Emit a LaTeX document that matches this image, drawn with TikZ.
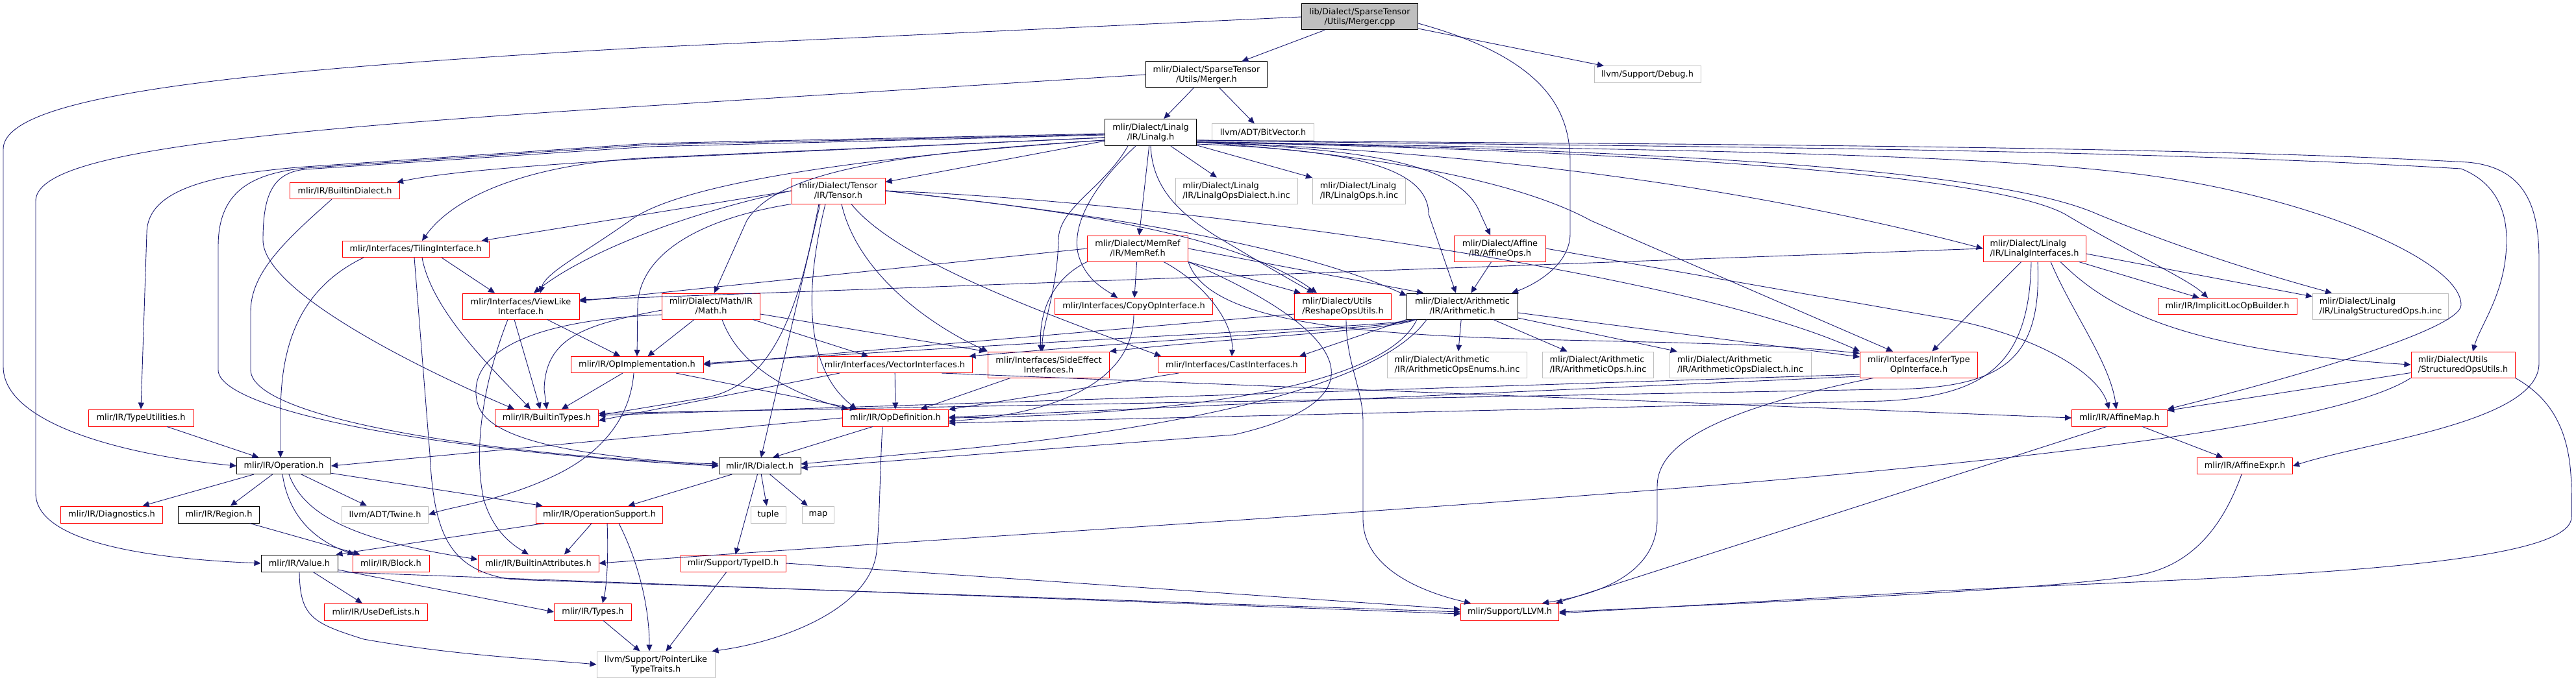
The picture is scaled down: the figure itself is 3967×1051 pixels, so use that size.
\documentclass[tikz,border=0pt]{standalone}
\usepackage{fontspec}
\setmainfont{DejaVu Sans}
\usetikzlibrary{arrows.meta}
\definecolor{edgec}{HTML}{191970}
\definecolor{nred}{HTML}{FF0000}
\definecolor{ngray}{HTML}{BFBFBF}
\newcommand\nodefontsel{\fontsize{12.9}{15}\selectfont}
\begin{document}
\begin{tikzpicture}[x=1pt,y=-1pt,
  box/.style={rectangle, draw, line width=1pt, inner sep=0pt, font=\nodefontsel, align=center, fill=white},
  rbox/.style={box, draw=nred},
  bbox/.style={box, draw=black},
  gbox/.style={box, draw=ngray},
  rootbox/.style={box, draw=black, fill=ngray},
  lal/.style={align=left},
  sz/.style 2 args={minimum width=#1pt, minimum height=#2pt},
  edg/.style={draw=edgec, line width=0.9pt, -{Triangle[length=10pt,width=9pt]}}
]
\useasboundingbox (0,0) rectangle (3967,1051);

% ---------- nodes ----------
\node[rootbox, sz={179}{40}] (cpp) at (2094,26) {lib/Dialect/SparseTensor\\/Utils/Merger.cpp};
\node[bbox, sz={187}{40}] (mergerh) at (1858,115) {mlir/Dialect/SparseTensor\\/Utils/Merger.h};
\node[gbox, sz={164}{26}] (debug) at (2537,115) {llvm/Support/Debug.h};
\node[bbox, sz={141}{41}] (linalg) at (1772,204) {mlir/Dialect/Linalg\\/IR/Linalg.h};
\node[gbox, sz={157}{26}] (bitvec) at (1945,204) {llvm/ADT/BitVector.h};
\node[rbox, sz={169}{25}] (bdialect) at (531,294) {mlir/IR/BuiltinDialect.h};
\node[rbox, sz={144}{40}] (tensor) at (1291,294) {mlir/Dialect/Tensor\\/IR/Tensor.h};
\node[gbox, lal, sz={188}{40}] (lodial) at (1904,294) {mlir/Dialect/Linalg\\/IR/LinalgOpsDialect.h.inc};
\node[gbox, lal, sz={143}{40}] (lops) at (2093,294) {mlir/Dialect/Linalg\\/IR/LinalgOps.h.inc};
\node[rbox, sz={226}{25}] (tiling) at (640,384) {mlir/Interfaces/TilingInterface.h};
\node[rbox, sz={155}{40}] (memref) at (1752,383) {mlir/Dialect/MemRef\\/IR/MemRef.h};
\node[rbox, sz={141}{40}] (affops) at (2310,383) {mlir/Dialect/Affine\\/IR/AffineOps.h};
\node[rbox, lal, sz={158}{40}] (linif) at (3133,383) {mlir/Dialect/Linalg\\/IR/LinalgInterfaces.h};
\node[rbox, sz={180}{40}] (viewlike) at (802,472) {mlir/Interfaces/ViewLike\\Interface.h};
\node[rbox, sz={151}{40}] (math) at (1095,472) {mlir/Dialect/Math/IR\\/Math.h};
\node[rbox, sz={243}{25}] (copyop) at (1746,472) {mlir/Interfaces/CopyOpInterface.h};
\node[rbox, lal, sz={149}{40}] (reshape) at (2068,472) {mlir/Dialect/Utils\\/ReshapeOpsUtils.h};
\node[bbox, sz={171}{40}] (arith) at (2252,472) {mlir/Dialect/Arithmetic\\/IR/Arithmetic.h};
\node[rbox, sz={214}{25}] (implicit) at (3430,472) {mlir/IR/ImplicitLocOpBuilder.h};
\node[gbox, lal, sz={209}{40}] (lstruct) at (3666,472) {mlir/Dialect/Linalg\\/IR/LinalgStructuredOps.h.inc};
\node[rbox, sz={204}{25}] (opimpl) at (981,562) {mlir/IR/OpImplementation.h};
\node[rbox, sz={238}{25}] (vector) at (1378,562) {mlir/Interfaces/VectorInterfaces.h};
\node[rbox, sz={187}{40}] (sideeff) at (1615,562) {mlir/Interfaces/SideEffect\\Interfaces.h};
\node[rbox, sz={227}{25}] (cast) at (1897,562) {mlir/Interfaces/CastInterfaces.h};
\node[gbox, lal, sz={215}{40}] (aenums) at (2244,562) {mlir/Dialect/Arithmetic\\/IR/ArithmeticOpsEnums.h.inc};
\node[gbox, lal, sz={171}{40}] (aops) at (2461,562) {mlir/Dialect/Arithmetic\\/IR/ArithmeticOps.h.inc};
\node[gbox, lal, sz={218}{40}] (adial) at (2680,562) {mlir/Dialect/Arithmetic\\/IR/ArithmeticOpsDialect.h.inc};
\node[rbox, sz={181}{40}] (infer) at (2955,562) {mlir/Interfaces/InferType\\OpInterface.h};
\node[rbox, lal, sz={160}{40}] (structu) at (3793,562) {mlir/Dialect/Utils\\/StructuredOpsUtils.h};
\node[rbox, sz={162}{26}] (typeutil) at (217,644) {mlir/IR/TypeUtilities.h};
\node[rbox, sz={159}{26}] (btypes) at (842,644) {mlir/IR/BuiltinTypes.h};
\node[rbox, sz={163}{26}] (opdef) at (1379,644) {mlir/IR/OpDefinition.h};
\node[rbox, sz={147}{26}] (affmap) at (3264,644) {mlir/IR/AffineMap.h};
\node[bbox, sz={145}{25}] (operation) at (437,718) {mlir/IR/Operation.h};
\node[bbox, sz={126}{25}] (dialect) at (1170,718) {mlir/IR/Dialect.h};
\node[rbox, sz={147}{25}] (affexpr) at (3457,718) {mlir/IR/AffineExpr.h};
\node[rbox, sz={157}{26}] (diag) at (172,793) {mlir/IR/Diagnostics.h};
\node[bbox, sz={125}{26}] (region) at (337,793) {mlir/IR/Region.h};
\node[gbox, sz={133}{26}] (twine) at (593,793) {llvm/ADT/Twine.h};
\node[rbox, sz={195}{26}] (opsupport) at (923,793) {mlir/IR/OperationSupport.h};
\node[gbox, sz={54}{26}] (tuple) at (1183,793) {tuple};
\node[gbox, sz={49}{26}] (map) at (1260,793) {map};
\node[bbox, sz={118}{26}] (value) at (461,868) {mlir/IR/Value.h};
\node[rbox, sz={118}{26}] (block) at (602,868) {mlir/IR/Block.h};
\node[rbox, sz={186}{26}] (battr) at (829,868) {mlir/IR/BuiltinAttributes.h};
\node[rbox, sz={162}{26}] (typeid) at (1129,868) {mlir/Support/TypeID.h};
\node[rbox, sz={159}{26}] (usedef) at (579,943) {mlir/IR/UseDefLists.h};
\node[rbox, sz={119}{26}] (types) at (913,943) {mlir/IR/Types.h};
\node[rbox, sz={151}{26}] (llvm) at (2325,943) {mlir/Support/LLVM.h};
\node[gbox, sz={182}{40}] (ptrlike) at (1010,1024) {llvm/Support/PointerLike\\TypeTraits.h};

% ---------- edges: Merger.cpp ----------
\draw[edg] (cpp) -- (mergerh);
\draw[edg] (cpp) -- (debug);
\draw[edg] ([yshift=-10pt]cpp.east) .. controls (2380,90) and (2418,170) .. (2418,250) -- (2418,360) .. controls (2418,410) and (2360,440) .. ([xshift=-10pt]arith.north east);
\draw[edg] (cpp.west) -- (1000,73) .. controls (330,110) and (5,150) .. (5,230) -- (5,565) .. controls (5,650) and (180,700) .. (operation.west);

% ---------- Merger.h ----------
\draw[edg] (mergerh) -- (linalg);
\draw[edg] (mergerh) -- (bitvec);
\draw[edg] (mergerh.west) -- (1000,163) .. controls (330,205) and (55,240) .. (55,310) -- (55,760) .. controls (55,840) and (250,862) .. (value.west);

% ---------- Linalg.h ----------
\draw[edg] ([yshift=-2pt]linalg.west) -- (1000,221) -- (470,257) .. controls (300,270) and (226,300) .. (226,360) -- (typeutil.north);
\draw[edg] ([yshift=-3pt]linalg.west) -- (1000,223) -- (470,259) .. controls (380,268) and (336,300) .. (336,380) -- (336,570) .. controls (336,630) and (650,695) .. (dialect.west);
\draw[edg] ([yshift=-4pt]linalg.west) -- (1000,226) -- (470,261) .. controls (420,266) and (405,300) .. (405,370) .. controls (405,450) and (650,570) .. ([xshift=-50pt]btypes.north);
\draw[edg] ([yshift=-8pt]linalg.west) -- (1000,243) .. controls (820,252) and (700,300) .. ([xshift=10pt]tiling.north);
\draw[edg] ([yshift=-8pt]linalg.west) -- (1000,244) .. controls (800,256) and (680,266) .. ([xshift=-5pt]bdialect.north east);
\draw[edg] ([yshift=-12pt]linalg.west) .. controls (1400,235) and (1200,260) .. (1150,340) -- ([xshift=5pt]math.north);
\draw[edg] ([yshift=-12pt]linalg.west) .. controls (1350,240) and (1050,280) .. (970,340) .. controls (900,390) and (840,420) .. ([xshift=30pt]viewlike.north);
\draw[edg] (linalg) -- (tensor);
\draw[edg] (linalg) -- (lodial);
\draw[edg] (linalg) -- (lops);
\draw[edg] (linalg) -- (memref);
\draw[edg] ([xshift=-23pt]linalg.south) .. controls (1690,280) and (1650,340) .. (1660,390) .. controls (1670,430) and (1700,445) .. ([xshift=-25pt]copyop.north);
\draw[edg] ([xshift=-35pt]linalg.south) .. controls (1700,290) and (1630,320) .. (1630,370) .. controls (1628,450) and (1605,500) .. ([xshift=-10pt]sideeff.north);
\draw[edg] (linalg.south) .. controls (1775,300) and (1830,340) .. (1900,380) .. controls (1950,410) and (1985,430) .. ([xshift=-45pt]reshape.north);
\draw[edg] ([yshift=-18pt]linalg.east) .. controls (2050,230) and (2200,250) .. (2200,330) -- ([xshift=-10pt]arith.north);
\draw[edg] ([yshift=-15pt]linalg.east) .. controls (2100,230) and (2250,250) .. (2280,330) -- ([xshift=-15pt]affops.north);
\draw[edg] ([yshift=-15pt]linalg.east) .. controls (2150,240) and (2350,285) .. (2450,340) -- ([xshift=-40pt]infer.north);
\draw[edg] ([yshift=-15pt]linalg.east) .. controls (2300,235) and (2700,290) .. (linif.west);
\draw[edg] ([yshift=-15pt]linalg.east) .. controls (2400,230) and (3050,260) .. (3180,330) .. controls (3280,390) and (3370,430) .. ([xshift=-30pt]implicit.north);
\draw[edg] ([yshift=-15pt]linalg.east) .. controls (2400,228) and (3050,250) .. (3230,330) .. controls (3400,400) and (3550,440) .. ([xshift=-75pt]lstruct.north);
\draw[edg] ([yshift=-12pt]linalg.east) .. controls (2400,226) and (3200,225) .. (3790,260) .. controls (3840,280) and (3860,320) .. (3860,370) .. controls (3860,450) and (3820,500) .. ([xshift=15pt]structu.north);
\draw[edg] ([yshift=-12pt]linalg.east) .. controls (2400,222) and (3300,222) .. (3800,250) .. controls (3890,258) and (3910,320) .. (3910,400) -- (3910,560) .. controls (3910,650) and (3650,680) .. (affexpr.east);
\draw[edg] ([yshift=-14pt]linalg.east) .. controls (2400,230) and (3000,232) .. (3290,268) .. controls (3550,300) and (3790,400) .. (3790,470) .. controls (3790,510) and (3500,590) .. (affmap.north east);

% ---------- Tensor.h ----------
\draw[edg] (tensor.west) -- ([xshift=-12pt]tiling.north east);
\draw[edg] (tensor.west) .. controls (1050,330) and (900,390) .. ([xshift=20pt]viewlike.north);
\draw[edg] (tensor.south west) .. controls (1060,340) and (985,400) .. (982,470) -- (opimpl.north);
\draw[edg] ([xshift=-30pt]tensor.south) .. controls (1235,450) and (1200,590) .. (1090,612) -- ([yshift=4pt]btypes.east);
\draw[edg] ([xshift=-28pt]tensor.south) -- ([xshift=2pt]dialect.north);
\draw[edg] ([xshift=-20pt]tensor.south) .. controls (1245,420) and (1230,560) .. ([xshift=-60pt]opdef.north);
\draw[edg] ([xshift=5pt]tensor.south) .. controls (1320,420) and (1430,500) .. (sideeff.north west);
\draw[edg] ([xshift=20pt]tensor.south) .. controls (1380,400) and (1600,480) .. ([xshift=5pt]cast.north west);
\draw[edg] (tensor.east) .. controls (1650,325) and (1900,360) .. ([xshift=-40pt]reshape.north);
\draw[edg] (tensor.east) .. controls (1650,325) and (1980,370) .. ([yshift=-4pt]arith.north west);
\draw[edg] (tensor.east) .. controls (1800,310) and (2600,420) .. (infer.north west);

% ---------- MemRef.h ----------
\draw[edg] (memref.west) -- ([yshift=8pt]viewlike.east);
\draw[edg] (memref) -- (copyop);
\draw[edg] (memref.south west) .. controls (1620,430) and (1600,480) .. ([xshift=-12pt]sideeff.north);
\draw[edg] ([xshift=40pt]memref.south) .. controls (1860,440) and (1900,500) .. (cast.north);
\draw[edg] (memref.south east) -- ([xshift=-65pt]reshape.north);
\draw[edg] (memref.east) -- ([xshift=-60pt]arith.north);
\draw[edg] (memref.south east) .. controls (1880,560) and (2500,505) .. ([yshift=-3pt]infer.north west);
\draw[edg] (memref.south east) .. controls (2100,520) and (2120,620) .. (1900,670) -- ([yshift=-3pt]dialect.east);

% ---------- Math.h ----------
\draw[edg] (math) -- (opimpl);
\draw[edg] (math) -- (vector);
\draw[edg] ([yshift=-12pt]math.east) -- ([xshift=-3pt]sideeff.north west);
\draw[edg] ([xshift=17pt]math.south) .. controls (1140,570) and (1230,610) .. ([xshift=-73pt]opdef.north);
\draw[edg] ([yshift=-6pt]math.west) .. controls (900,500) and (840,520) .. (838,600) -- (btypes.north);
\draw[edg] ([yshift=-13pt]math.west) .. controls (780,495) and (720,560) .. (735,620) .. controls (750,690) and (950,705) .. (dialect.west);

% ---------- TilingInterface.h ----------
\draw[edg] ([xshift=40pt]tiling.south) -- ([xshift=-40pt]viewlike.north);
\draw[edg] ([xshift=10pt]tiling.south) .. controls (665,480) and (760,570) .. ([xshift=-25pt]btypes.north);
\draw[edg] ([xshift=-80pt]tiling.south) .. controls (450,450) and (432,550) .. (432,640) -- ([xshift=-5pt]operation.north);
\draw[edg] ([xshift=-2pt]tiling.south) -- (662,700) .. controls (668,820) and (690,880) .. (790,893) -- (llvm.west);

% ---------- ViewLikeInterface.h ----------
\draw[edg] (viewlike) -- (opimpl);
\draw[edg] ([xshift=-10pt]viewlike.south) -- ([xshift=-10pt]btypes.north);
\draw[edg] ([xshift=-20pt]viewlike.south) .. controls (740,600) and (730,700) .. (745,770) .. controls (760,820) and (790,840) .. ([xshift=-15pt]battr.north);

% ---------- OpImplementation.h ----------
\draw[edg] (opimpl) -- (btypes);
\draw[edg] ([xshift=60pt]opimpl.south) -- ([xshift=-60pt]opdef.north);
\draw[edg] ([xshift=-5pt]opimpl.south) .. controls (970,650) and (920,700) .. (860,730) .. controls (780,770) and (700,780) .. (twine.east);

% ---------- Interfaces ----------
\draw[edg] (vector) -- (opdef);
\draw[edg] ([xshift=-85pt]vector.south) -- ([yshift=-4pt]btypes.east);
\draw[edg] ([xshift=72pt]vector.south) -- (affmap.west);
\draw[edg] (sideeff) -- (opdef);
\draw[edg] (cast) -- (opdef);
\draw[edg] (copyop.south) .. controls (1745,600) and (1600,640) .. ([yshift=-5pt]opdef.east);

% ---------- ReshapeOpsUtils.h ----------
\draw[edg] ([yshift=-12pt]reshape.west) -- (opimpl.east);
\draw[edg] ([xshift=5pt]reshape.south) .. controls (2073,560) and (2099,600) .. (2099,650) -- (2099,800) .. controls (2099,880) and (2200,915) .. ([xshift=-60pt]llvm.north);

% ---------- Arithmetic.h ----------
\draw[edg] (arith) -- (aenums);
\draw[edg] (arith) -- (aops);
\draw[edg] (arith) -- (adial);
\draw[edg] ([yshift=-10pt]arith.east) -- ([yshift=12pt]infer.west);
\draw[edg] (arith.south west) -- ([xshift=-10pt]cast.north east);
\draw[edg] ([xshift=14pt]arith.south west) .. controls (2140,510) and (1900,520) .. (sideeff.north east);
\draw[edg] ([xshift=12pt]arith.south west) .. controls (2140,506) and (1900,514) .. ([xshift=-5pt]vector.north east);
\draw[edg] ([xshift=10pt]arith.south west) .. controls (2140,503) and (1900,508) .. ([yshift=2pt]opimpl.east);
\draw[edg] ([xshift=-70pt]arith.south) .. controls (2130,600) and (1800,640) .. (opdef.east);
\draw[edg] ([xshift=-55pt]arith.south) .. controls (2120,600) and (1800,660) .. (1500,690) -- ([yshift=3pt]dialect.east);

% ---------- InferTypeOpInterface.h ----------
\draw[edg] ([yshift=-15pt]infer.west) -- ([yshift=4pt]btypes.east);
\draw[edg] ([yshift=-18pt]infer.west) -- ([yshift=1pt]opdef.east);
\draw[edg] ([xshift=-70pt]infer.south) .. controls (2600,640) and (2552,700) .. (2552,750) -- (2552,800) .. controls (2552,880) and (2470,915) .. ([xshift=50pt]llvm.north);

% ---------- LinalgInterfaces.h ----------
\draw[edg] (linif.west) -- ([yshift=10pt]viewlike.east);
\draw[edg] (linif) -- (infer);
\draw[edg] ([xshift=-5pt]linif.south) .. controls (3125,560) and (3060,610) .. (2900,618) -- ([yshift=-8pt]opdef.east);
\draw[edg] ([xshift=5pt]linif.south) .. controls (3145,560) and (3080,600) .. (2900,600) -- ([yshift=7pt]btypes.east);
\draw[edg] ([xshift=25pt]linif.south) .. controls (3190,480) and (3250,560) .. ([xshift=-5pt]affmap.north);
\draw[edg] ([xshift=40pt]linif.south) .. controls (3240,470) and (3350,540) .. (structu.west);
\draw[edg] (linif) -- (implicit);
\draw[edg] ([yshift=-8pt]linif.east) -- ([yshift=15pt]lstruct.west);

% ---------- StructuredOpsUtils.h ----------
\draw[edg] (structu) -- (affmap);
\draw[edg] (structu.south west) .. controls (3500,720) and (2000,790) .. (battr.east);
\draw[edg] (structu.south east) .. controls (3940,620) and (3960,680) .. (3960,760) -- (3960,797) .. controls (3960,880) and (3400,890) .. (3000,910) -- ([yshift=-2pt]llvm.east);

% ---------- AffineMap / AffineExpr / AffineOps ----------
\draw[edg] (affmap) -- (affexpr);
\draw[edg] ([xshift=-20pt]affmap.south) -- ([xshift=-5pt]llvm.north east);
\draw[edg] ([xshift=-5pt]affexpr.south) .. controls (3420,820) and (3370,870) .. (3300,885) .. controls (3200,905) and (2800,925) .. (llvm.east);
\draw[edg] (affops) -- (arith);
\draw[edg] (affops.east) -- (2980,488) .. controls (3120,510) and (3230,570) .. ([xshift=-16pt]affmap.north);

% ---------- Operation.h ----------
\draw[edg] (operation) -- (diag);
\draw[edg] (operation) -- (region);
\draw[edg] (operation) -- (twine);
\draw[edg] (operation) -- (opsupport);
\draw[edg] ([xshift=-2pt]operation.south) .. controls (445,800) and (490,835) .. ([xshift=3pt]block.north west);
\draw[edg] ([xshift=8pt]operation.south) .. controls (470,800) and (560,835) .. ([yshift=6pt]battr.west);
\draw[edg] (region) -- (block);

% ---------- Dialect.h ----------
\draw[edg] (dialect) -- (opsupport);
\draw[edg] (dialect) -- (typeid);
\draw[edg] (dialect) -- (tuple);
\draw[edg] (dialect) -- (map);

% ---------- OperationSupport.h ----------
\draw[edg] ([xshift=-85pt]opsupport.south) -- ([xshift=-3pt]value.north east);
\draw[edg] (opsupport) -- ([xshift=40pt]battr.north);
\draw[edg] ([xshift=12pt]opsupport.south) .. controls (937,850) and (935,900) .. ([xshift=15pt]types.north);
\draw[edg] ([xshift=30pt]opsupport.south) .. controls (990,880) and (1000,950) .. ([xshift=-10pt]ptrlike.north);

% ---------- Value.h ----------
\draw[edg] (value) -- (usedef);
\draw[edg] ([yshift=-10pt]value.east) -- (types.west);
\draw[edg] (value.south) .. controls (462,950) and (480,960) .. (560,985) .. controls (700,1010) and (820,1015) .. (ptrlike.west);
\draw[edg] (value.south east) -- ([yshift=-3pt]llvm.west);

% ---------- TypeID / Types ----------
\draw[edg] (typeid) -- (ptrlike);
\draw[edg] (typeid.east) -- ([yshift=4pt]llvm.west);
\draw[edg] (types) -- (ptrlike);

% ---------- OpDefinition.h ----------
\draw[edg] ([xshift=-35pt]opdef.south) -- ([xshift=20pt]dialect.north);
\draw[edg] (opdef.west) -- (operation.east);
\draw[edg] ([xshift=-20pt]opdef.south) .. controls (1355,720) and (1355,800) .. (1350,850) .. controls (1340,940) and (1200,990) .. ([xshift=-5pt]ptrlike.north east);

% ---------- TypeUtilities / BuiltinDialect ----------
\draw[edg] (typeutil) -- (operation);
\draw[edg] ([xshift=-20pt]bdialect.south) .. controls (440,370) and (386,420) .. (386,480) -- (386,570) .. controls (386,650) and (800,705) .. ([yshift=3pt]dialect.west);
\end{tikzpicture}
\end{document}
